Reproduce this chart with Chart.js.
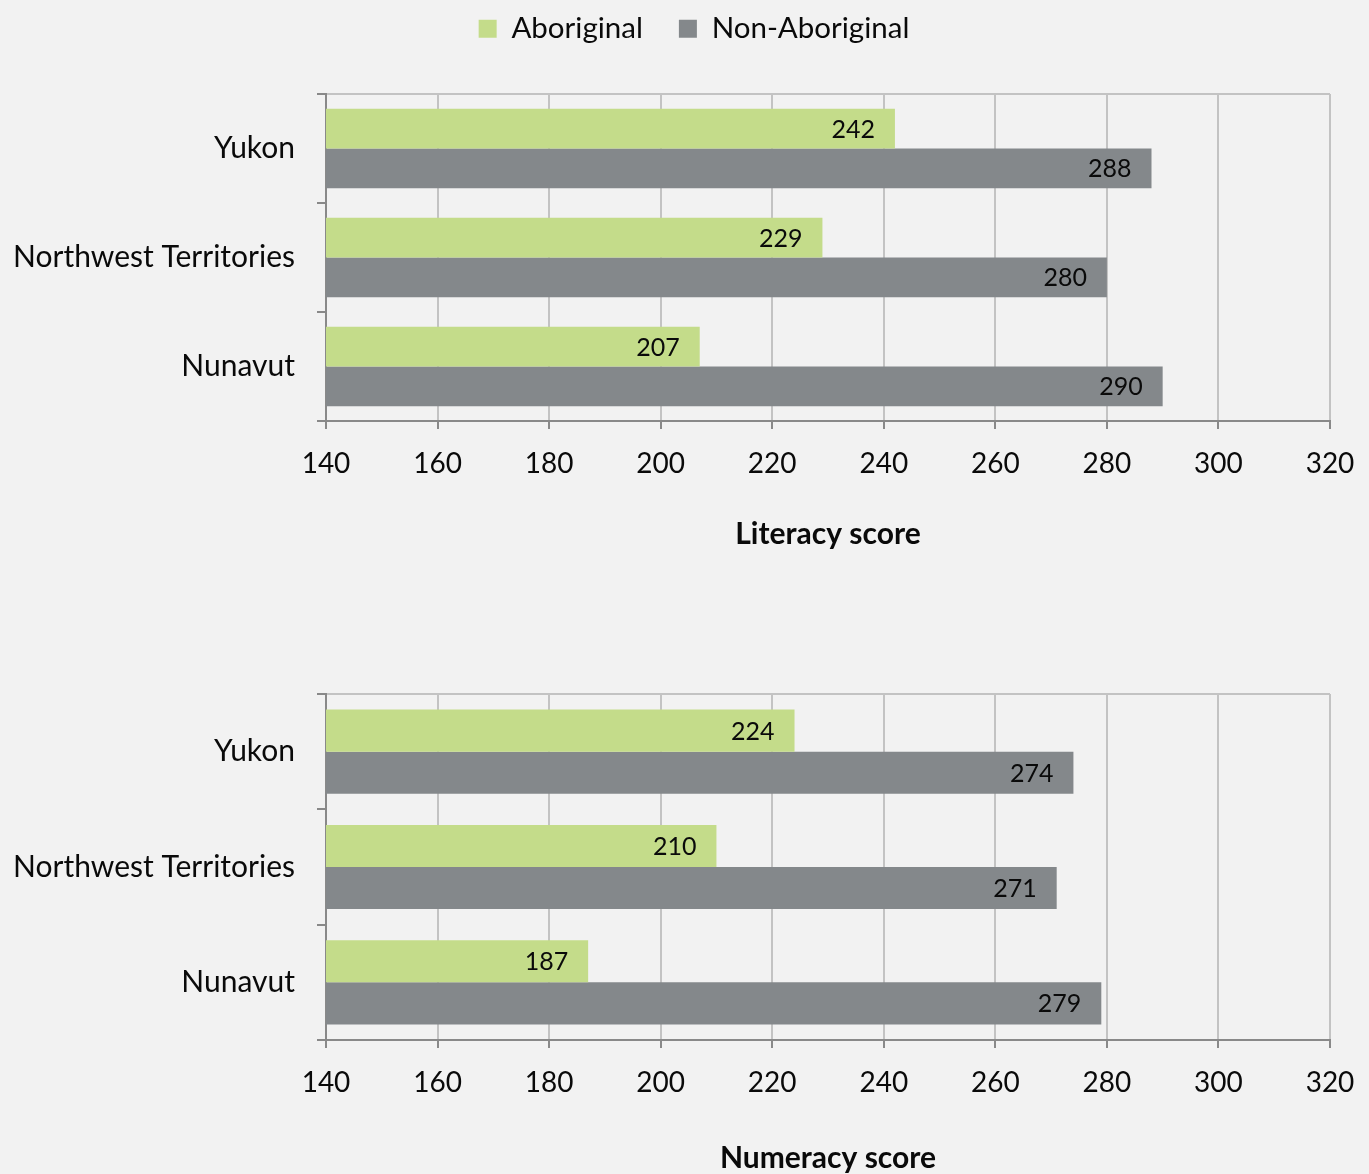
<!DOCTYPE html>
<html>
<head>
<meta charset="utf-8">
<script src="https://cdn.jsdelivr.net/npm/chart.js@4.4.1/dist/chart.umd.min.js"></script>
<style>
  html, body { margin: 0; padding: 0; background: #f2f2f2; }
  body { width: 1369px; height: 1174px; position: relative; overflow: hidden; }
  .box { position: absolute; left: 0; width: 1369px; }
  #b1 { top: 0; height: 580px; }
  #b2 { top: 580px; height: 594px; }
</style>
</head>
<body>
<div class="box" id="b1"><canvas id="c1"></canvas></div>
<div class="box" id="b2"><canvas id="c2"></canvas></div>
<script>
const categories = ['Yukon', 'Northwest Territories', 'Nunavut'];
const seriesNames = ['Aboriginal', 'Non-Aboriginal'];
const literacyAboriginal = [242, 229, 207];
const literacyNonAboriginal = [288, 280, 290];
const numeracyAboriginal = [224, 210, 187];
const numeracyNonAboriginal = [274, 271, 279];
const axisMin = 140, axisMax = 320, axisStep = 20;

const GREEN = '#c4dc8a';
const GRAY = '#84888b';
const GRID = '#c3c3c3';
const AXIS = '#898989';
const TEXT = '#0a0a0a';
const FONT = 'Lato';

const valueLabels = {
  id: 'valueLabels',
  afterDatasetsDraw(chart) {
    const ctx = chart.ctx;
    ctx.save();
    ctx.font = '25px ' + FONT;
    ctx.fillStyle = TEXT;
    ctx.textAlign = 'right';
    ctx.textBaseline = 'middle';
    chart.data.datasets.forEach((ds, i) => {
      const meta = chart.getDatasetMeta(i);
      meta.data.forEach((bar, j) => {
        ctx.fillText(String(ds.data[j]), bar.x - 20, bar.y + 1);
      });
    });
    ctx.restore();
  }
};

function makeChart(canvasId, aData, nData, title, opts) {
  const plugins = [valueLabels];
  if (opts.legend) {
    plugins.push({
      id: 'legendSpace',
      beforeInit(chart) {
        const orig = chart.legend.fit;
        chart.legend.fit = function () { orig.call(this); this.height = opts.topSpace; };
      },
      afterLayout(chart) {
        chart.legend.top = -22;
        chart.legend.left += 29;
        chart.legend.right += 29;
      }
    });
  }
  return new Chart(document.getElementById(canvasId), {
    type: 'bar',
    data: {
      labels: categories,
      datasets: [
        { label: seriesNames[0], data: aData, backgroundColor: GREEN, borderWidth: 0,
          categoryPercentage: 0.73, barPercentage: 1.0 },
        { label: seriesNames[1], data: nData, backgroundColor: GRAY, borderWidth: 0,
          categoryPercentage: 0.73, barPercentage: 1.0 }
      ]
    },
    options: {
      indexAxis: 'y',
      responsive: true,
      maintainAspectRatio: false,
      animation: false,
      layout: { padding: { left: 0, right: 39, top: opts.legend ? 0 : opts.topSpace, bottom: 0 } },
      plugins: {
        legend: {
          display: !!opts.legend,
          position: 'top',
          labels: {
            font: { family: FONT, size: 29.5 },
            color: TEXT,
            boxWidth: 18,
            boxHeight: 18,
            padding: 36
          }
        },
        tooltip: { enabled: false }
      },
      scales: {
        x: {
          type: 'linear',
          min: axisMin,
          max: axisMax,
          ticks: { stepSize: axisStep, font: { family: FONT, size: 28 }, color: TEXT, padding: 18 },
          grid: { color: GRID, lineWidth: 2, tickColor: AXIS, tickLength: 8, tickWidth: 2 },
          border: { color: AXIS, width: 2 },
          title: { display: true, text: title, font: { family: FONT, size: 30, weight: 'bold' }, color: TEXT,
                   padding: { top: 0, bottom: opts.titleBottom } },
          afterFit(s) { s.height = opts.xHeight; s.paddingRight = 0; }
        },
        y: {
          ticks: { font: { family: FONT, size: 30 }, color: TEXT, padding: 22 },
          grid: {
            offset: true,
            color: (c) => c.index === 0 ? GRID : 'transparent',
            lineWidth: 2,
            tickColor: AXIS,
            tickLength: 9,
            tickWidth: 2
          },
          border: { color: AXIS, width: 2 },
          afterFit(s) { s.width = 326; }
        }
      }
    },
    plugins: plugins
  });
}

makeChart('c1', literacyAboriginal, literacyNonAboriginal, 'Literacy score',
  { legend: true, topSpace: 94, xHeight: 159, titleBottom: 28 });
makeChart('c2', numeracyAboriginal, numeracyNonAboriginal, 'Numeracy score',
  { legend: false, topSpace: 114, xHeight: 134, titleBottom: -2 });
</script>
</body>
</html>
